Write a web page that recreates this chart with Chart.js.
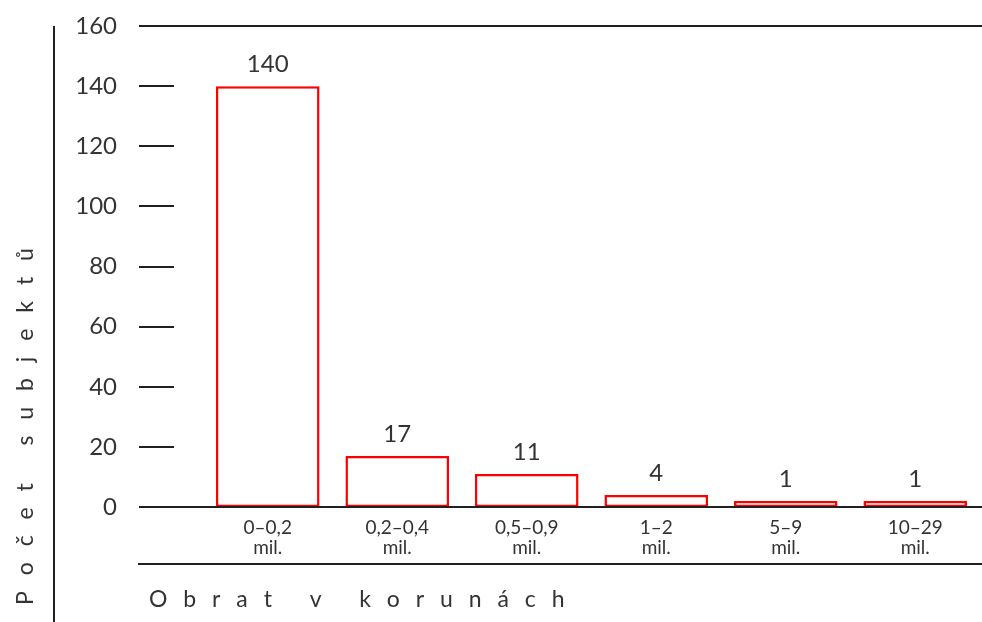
<!DOCTYPE html>
<html>
<head>
<meta charset="utf-8">
<script src="https://cdn.jsdelivr.net/npm/chart.js@4"></script>
<style>
  html, body { margin: 0; padding: 0; background: #fff; }
  #wrap { width: 982px; height: 622px; }
</style>
</head>
<body>
<div id="wrap"><canvas id="obrat-chart" width="982" height="622"></canvas></div>
<script>
'use strict';

// data
let categories = [
  ['0–0,2', 'mil.'],
  ['0,2–0,4', 'mil.'],
  ['0,5–0,9', 'mil.'],
  ['1–2', 'mil.'],
  ['5–9', 'mil.'],
  ['10–29', 'mil.']
];
let subjectCounts = [140, 17, 11, 4, 1, 1];
let yTicks = [0, 20, 40, 60, 80, 100, 120, 140, 160];

let xTitle = 'Obrat v korunách';
let yTitle = 'Počet subjektů';

let lineColor = '#231f20';
let textColor = '#333333';
let fontName = 'Lato';

// helper to draw letter-spaced text one char at a time
function spacedText(ctx, text, x, y, spacing) {
  let pos = x;
  for (let i = 0; i < text.length; i++) {
    ctx.fillText(text[i], pos, y);
    pos += ctx.measureText(text[i]).width + spacing;
  }
}

// lines, titles and value labels
let decorations = {
  id: 'decorations',
  afterDatasetsDraw(chart) {
    let ctx = chart.ctx;
    let yScale = chart.scales.y;
    let right = chart.width;

    ctx.save();
    ctx.strokeStyle = lineColor;
    ctx.lineWidth = 2;

    // y tick marks, full lines at 0 and 160
    yTicks.forEach(function (v) {
      let py = Math.round(yScale.getPixelForValue(v));
      let full = (v === 0 || v === 160);
      ctx.beginPath();
      ctx.moveTo(139, py);
      ctx.lineTo(full ? right : 174, py);
      ctx.stroke();
    });

    // bottom line under the category labels
    ctx.beginPath();
    ctx.moveTo(138, 564);
    ctx.lineTo(right, 564);
    ctx.stroke();

    // left vertical line
    ctx.beginPath();
    ctx.moveTo(54, 26);
    ctx.lineTo(54, chart.height);
    ctx.stroke();

    // value labels above bars
    ctx.fillStyle = textColor;
    ctx.font = '24px ' + fontName;
    ctx.textAlign = 'center';
    ctx.textBaseline = 'middle';
    let meta = chart.getDatasetMeta(0);
    meta.data.forEach(function (bar, i) {
      let p = bar.getProps(['x', 'y'], true);
      ctx.fillText(String(subjectCounts[i]), p.x, p.y - 22);
    });

    // axis titles
    ctx.font = '23px ' + fontName;
    ctx.textAlign = 'left';
    ctx.textBaseline = 'alphabetic';
    spacedText(ctx, xTitle, 149, 607, 15.9);

    ctx.translate(33, 605);
    ctx.rotate(-Math.PI / 2);
    spacedText(ctx, yTitle, 0, 0, 15.9);

    ctx.restore();
  }
};

let ctx = document.getElementById('obrat-chart').getContext('2d');

let chartObject = {
  type: 'bar',
  data: {
    labels: categories,
    datasets: [{
      label: 'Počet subjektů',
      data: subjectCounts,
      backgroundColor: '#ffffff',
      borderColor: '#ff0000',
      borderWidth: 2.5,
      borderSkipped: false,
      minBarLength: 6,
      barPercentage: 0.8,
      categoryPercentage: 1
    }]
  },
  options: {
    responsive: false,
    animation: false,
    events: [],
    layout: {
      padding: { top: 26, right: 2, left: 0, bottom: 53 }
    },
    plugins: {
      legend: { display: false },
      tooltip: { enabled: false }
    },
    scales: {
      x: {
        grid: { display: false, drawTicks: false },
        border: { display: false },
        ticks: {
          color: textColor,
          font: { family: fontName, size: 19, lineHeight: 1.05 },
          padding: 11,
          maxRotation: 0,
          autoSkip: false
        }
      },
      y: {
        min: 0,
        max: 160,
        grid: { display: false, drawTicks: false },
        border: { display: false },
        ticks: {
          stepSize: 20,
          color: textColor,
          font: { family: fontName, size: 24 },
          padding: 86
        },
        afterFit: function (scale) {
          scale.width = 203;
          // tick padding would otherwise push the top down
          scale.paddingTop = 0;
          scale.paddingBottom = 0;
        }
      }
    }
  },
  plugins: [decorations]
};

const myChart = new Chart(ctx, chartObject);
</script>
</body>
</html>
